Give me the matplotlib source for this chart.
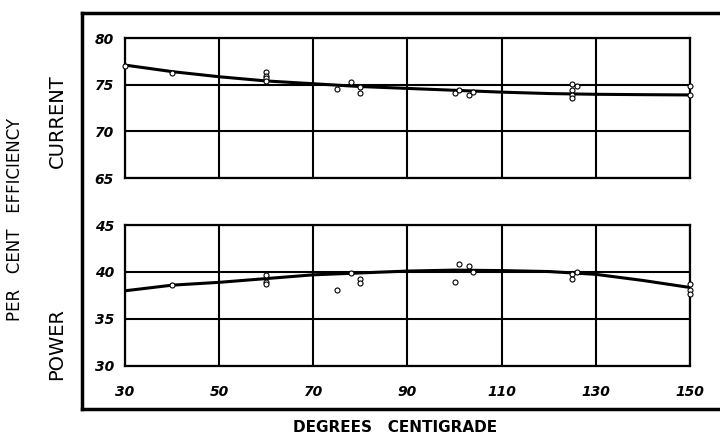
import numpy as np
import matplotlib
matplotlib.use('Agg')
import matplotlib.pyplot as plt
from matplotlib.lines import Line2D

# smooth curves (read at 10 degree steps)
curve_t = [30, 40, 50, 60, 70, 80, 90, 100, 110, 120, 130, 140, 150]
current_curve = [77.1, 76.4, 75.85, 75.4, 75.1, 74.8, 74.6, 74.4, 74.2, 74.05, 73.97, 73.93, 73.9]
power_curve = [38.0, 38.6, 38.9, 39.3, 39.7, 39.9, 40.1, 40.2, 40.15, 40.05, 39.75, 39.1, 38.35]

# observed points
current_t = [30, 40, 60, 60, 60, 60, 75, 78, 80, 80, 100, 101, 103, 104, 125, 126, 125, 125, 125, 150, 150]
current_y = [77.0, 76.3, 76.4, 75.9, 75.7, 75.4, 74.5, 75.3, 74.7, 74.1, 74.1, 74.4, 73.9, 74.2, 75.1, 74.9, 74.4, 73.9, 73.6, 74.9, 73.9]

power_t = [40, 60, 60, 60, 75, 78, 80, 80, 100, 101, 103, 104, 125, 125, 126, 150, 150, 150]
power_y = [38.6, 39.7, 38.9, 38.7, 38.05, 39.9, 39.3, 38.8, 38.9, 40.8, 40.6, 40.0, 39.8, 39.3, 40.0, 38.7, 38.1, 37.7]

xticks = [30, 50, 70, 90, 110, 130, 150]

fig = plt.figure(figsize=(7.2, 4.38), dpi=100)
tickfont = dict(fontsize=10, fontweight='bold', fontstyle='italic')

ax1 = fig.add_axes([0.1736, 0.5936, 0.7847, 0.3196])
ax2 = fig.add_axes([0.1736, 0.1644, 0.7847, 0.3219])


def panel(ax, cy, pt, py, lim, yt, show_x):
    ax.plot(curve_t, cy, color='black', lw=2.2, zorder=3)
    ax.plot(pt, py, 'o', ms=3.6, mfc='white', mec='black', mew=0.8, zorder=4, clip_on=False)
    ax.set_xlim(30, 150)
    ax.set_ylim(*lim)
    ax.set_xticks(xticks)
    ax.set_yticks(yt)
    ax.grid(True, color='black', lw=1.5)
    for s in ax.spines.values():
        s.set_linewidth(1.6)
    ax.tick_params(length=0, pad=8)
    ax.set_yticklabels([str(v) for v in yt], **tickfont)
    if show_x:
        ax.set_xticklabels([str(v) for v in xticks], **tickfont)
        ax.tick_params(axis='x', pad=14)
    else:
        ax.set_xticklabels([])


panel(ax1, current_curve, current_t, current_y, (65, 80), [65, 70, 75, 80], False)
panel(ax2, power_curve, power_t, power_y, (30, 45), [30, 35, 40, 45], True)

# outer frame, open on the right
fig.add_artist(Line2D([0.114, 1.0], [0.970, 0.970], transform=fig.transFigure, color='black', lw=2.5))
fig.add_artist(Line2D([0.114, 1.0], [0.066, 0.066], transform=fig.transFigure, color='black', lw=2.5))
fig.add_artist(Line2D([0.114, 0.114], [0.066, 0.970], transform=fig.transFigure, color='black', lw=2.5))

fig.text(0.079, 0.724, 'CURRENT', rotation=90, ha='center', va='center', fontsize=14)
fig.text(0.079, 0.215, 'POWER', rotation=90, ha='center', va='center', fontsize=14)
fig.text(0.021, 0.498, 'PER   CENT   EFFICIENCY', rotation=90, ha='center', va='center', fontsize=12)
fig.text(0.549, 0.023, 'DEGREES   CENTIGRADE', ha='center', va='center', fontsize=11, fontweight='bold')

fig.savefig('out.png', dpi=100)
